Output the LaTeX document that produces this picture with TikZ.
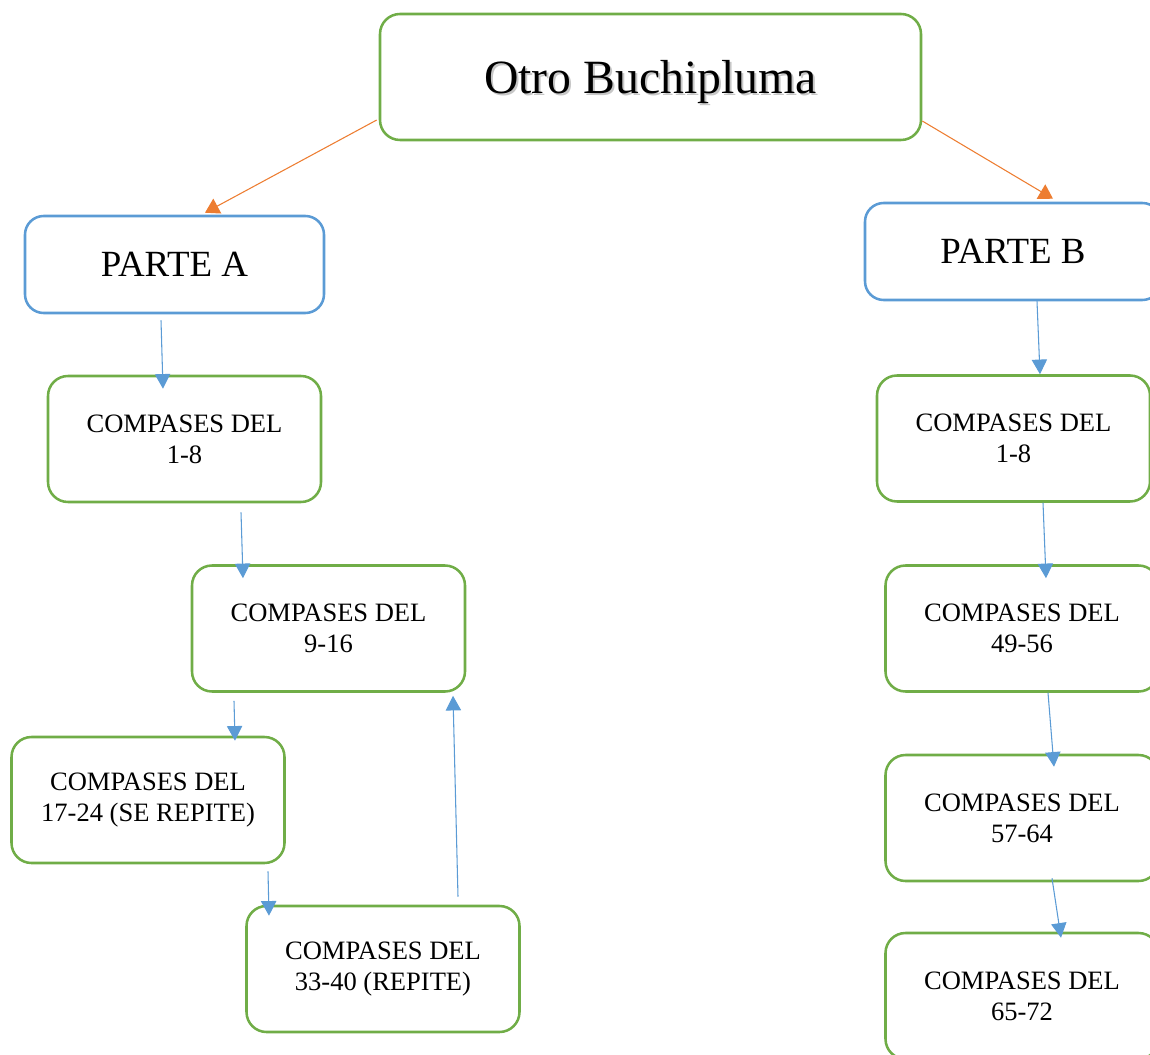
\documentclass[tikz,border=0pt]{standalone}
\usepackage{fontspec}
\setmainfont{Liberation Serif}
\usetikzlibrary{calc,arrows.meta}
\definecolor{cgreen}{HTML}{70AD47}
\definecolor{cblue}{HTML}{5B9BD5}
\definecolor{corange}{HTML}{ED7D31}
\begin{document}
\begin{tikzpicture}[x=0.75pt,y=-0.75pt,
  gbox/.style={draw=cgreen,line width=1.9pt,rounded corners=15pt,
    minimum width=204.75pt,minimum height=94.5pt,inner sep=0pt,align=center,
    font=\fontsize{19.9}{23.25}\selectfont},
  bbox/.style={draw=cblue,line width=1.9pt,rounded corners=14pt,
    minimum height=72.75pt,inner sep=0pt,
    font=\fontsize{27.7}{32}\selectfont},
  barr/.style={draw=cblue,line width=0.8pt,-{Triangle[width=11.5pt,length=11pt]}},
  oarr/.style={draw=corange,line width=0.8pt,-{Triangle[width=12.5pt,length=10.5pt]}},
]
\useasboundingbox (0,0) rectangle (1150,1055);
\clip (0,0) rectangle (1150,1055);

% title
\node[draw=cgreen,line width=1.9pt,rounded corners=15pt,minimum width=405.75pt,
  minimum height=94.5pt,inner sep=0pt] (t) at (650.5,77) {};
\node[text=black!22,font=\fontsize{35.8}{40}\selectfont] (tsh) at (652.5,84) {Otro Buchipluma};
\node[font=\fontsize{35.8}{40}\selectfont] (tt) at (650.5,82) {Otro Buchipluma};

% parts
\node[bbox,minimum width=224.25pt] (pa) at (174.5,264.5) {PARTE A};
\node[bbox,minimum width=222pt] (pb) at (1013,251.5) {PARTE B};

% left column
\node[gbox] (a1) at (184.5,439) {COMPASES DEL\\1-8};
\node[gbox] (a2) at (328.5,628.5) {COMPASES DEL\\9-16};
\node[gbox] (a3) at (148,800) {COMPASES DEL\\17-24 (SE REPITE)};
\node[gbox] (a4) at (383,969) {COMPASES DEL\\33-40 (REPITE)};

% right column
\node[gbox] (b1) at (1013.5,438.5) {COMPASES DEL\\1-8};
\node[gbox] (b2) at (1022,628.5) {COMPASES DEL\\49-56};
\node[gbox] (b3) at (1022,818) {COMPASES DEL\\57-64};
\node[gbox] (b4) at (1022,996) {COMPASES DEL\\65-72};

% connectors
\draw[oarr] ($(t.west)+(-2,43)$) -- ($(pa.north)+(30.5,-2)$);
\draw[oarr] ($(t.east)+(0,44)$) -- ($(pb.north)+(40,-3)$);

\draw[barr] ($(pa.south)+(-13.5,6)$) -- ($(a1.north)+(-21.5,14)$);
\draw[barr] ($(a1.south)+(56.5,9)$) -- ($(a2.north)+(-85.5,14)$);
\draw[barr] ($(a2.south)+(-94.5,8)$) -- ($(a3.north)+(87,5)$);
\draw[barr] ($(a3.south)+(120,7)$) -- ($(a4.north)+(-114,11)$);
\draw[barr] ($(a4.north)+(75,-8)$) -- ($(a2.south)+(124.5,3)$);

\draw[barr] ($(pb.south)+(24,0)$) -- ($(b1.north)+(26.5,0)$);
\draw[barr] ($(b1.south)+(29.5,0)$) -- ($(b2.north)+(24,14)$);
\draw[barr] ($(b2.south)+(26,0)$) -- ($(b3.north)+(32,13)$);
\draw[barr] ($(b3.south)+(30,-4)$) -- ($(b4.north)+(39,6)$);
\end{tikzpicture}
\end{document}
